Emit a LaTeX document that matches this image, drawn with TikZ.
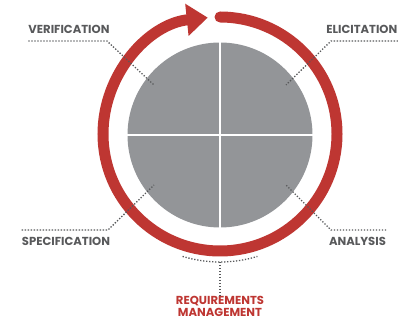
\documentclass[tikz,border=0pt]{standalone}
\usepackage{fontspec}
\setmainfont{Poppins}
\usetikzlibrary{arrows.meta}
\definecolor{ringred}{RGB}{190,54,50}
\definecolor{labelgrey}{RGB}{88,89,91}
\definecolor{diskgrey}{RGB}{147,149,152}
\tikzset{
  lbl/.style={text=labelgrey,font=\fontsize{11.6}{12}\selectfont\bfseries,inner sep=0pt},
  leader/.style={labelgrey,line width=1.3pt,dash pattern=on 1.3pt off 1.7pt,line cap=butt},
  ring/.style={ringred,line width=11pt}
}
\begin{document}
\begin{tikzpicture}[x=1pt,y=1pt,line join=round]
	\useasboundingbox (-220,-189) rectangle (178,134);
	\fill[diskgrey] (0,-1) circle (92.5);
	\draw[white,line width=2.5pt] (-95,-1) -- (95,-1) (0,-96) -- (0,96);
	\draw[ring,line cap=round,-{Triangle[length=21pt,width=31pt]}] (90:117) arc (90:-264:117);
	\node[lbl,anchor=base] (verif) at (-151,100) {VERIFICATION};
	\node[lbl,anchor=base east] (elicit) at (177.5,100) {ELICITATION};
	\node[lbl,anchor=base] (spec) at (-154,-111) {SPECIFICATION};
	\node[lbl,anchor=base] (analysis) at (137.5,-111) {ANALYSIS};
	\node[lbl,text=ringred,align=center,font=\fontsize{11.6}{12.5}\selectfont\bfseries,anchor=north] (mgmt) at (0,-162) {REQUIREMENTS\\MANAGEMENT};
	\coordinate (verifin) at (-66,49);
	\coordinate (elicitin) at (66,49);
	\coordinate (specin) at (-66,-51);
	\coordinate (analysisin) at (66,-51);
	\coordinate (arcmid) at (0,-128);
	\draw[leader] (verif.west |- 0,93) -- (-113,93) -- (verifin);
	\draw[leader] (178,93) -- (111,93) -- (elicitin);
	\draw[leader] (spec.west |- 0,-96) -- (-112,-96) -- (specin);
	\draw[leader] (analysis.east |- 0,-96) -- (111,-96) -- (analysisin);
	\draw[leader] (253:128) arc (253:287:128);
	\draw[leader] (arcmid) -- (mgmt.north);
\end{tikzpicture}
\end{document}
